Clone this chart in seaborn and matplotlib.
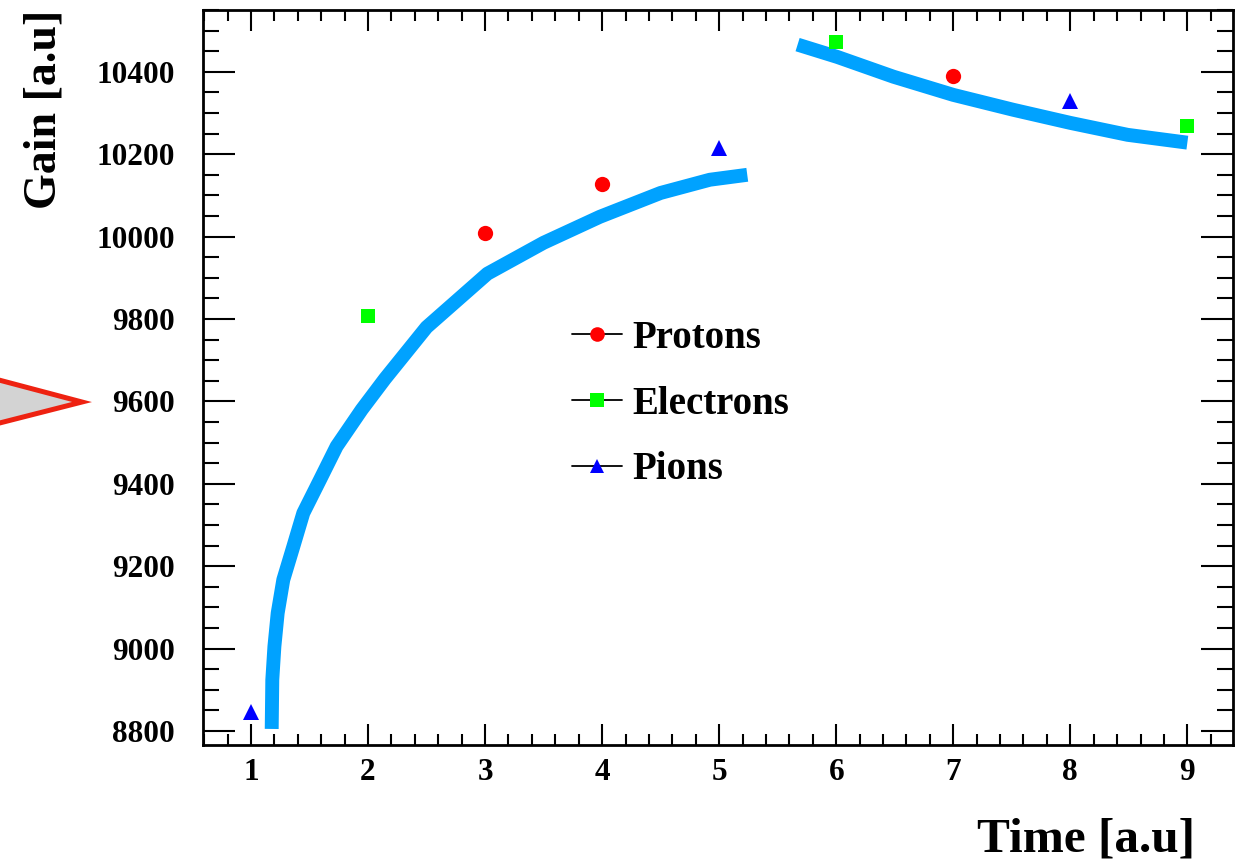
import matplotlib
matplotlib.use("Agg")
import matplotlib.pyplot as plt
from matplotlib.patches import Polygon
from matplotlib.ticker import MultipleLocator
import seaborn as sns
import pandas as pd

# ---------------- data ----------------
curve1_x = [1.177, 1.182, 1.200, 1.228, 1.276, 1.362, 1.447, 1.590, 1.732, 1.946, 2.145,
            2.50, 3.02, 3.50, 3.98, 4.50, 4.92, 5.24]
curve1_y = [8805, 8924, 9005, 9086, 9167, 9248, 9329, 9410, 9491, 9580, 9655,
            9780, 9910, 9985, 10048, 10106, 10138, 10150]
curve2_x = [5.67, 6.01, 6.49, 7.00, 7.51, 8.00, 8.49, 9.00]
curve2_y = [10466, 10436, 10388, 10344, 10308, 10276, 10247, 10228]

protons_x = [3, 4, 7]
protons_y = [10009, 10128, 10390]
electrons_x = [2, 6, 9]
electrons_y = [9808, 10472, 10269]
pions_x = [1, 5, 8]
pions_y = [8847, 10216, 10329]

x_ticks = [1, 2, 3, 4, 5, 6, 7, 8, 9]
y_ticks = [8800, 9000, 9200, 9400, 9600, 9800, 10000, 10200, 10400]

# ---------------- style ----------------
sns.set_style("ticks")
plt.rcParams["font.family"] = ["Liberation Serif", "DejaVu Serif"]
plt.rcParams["font.weight"] = "bold"
for k in ["text.color", "axes.labelcolor", "xtick.color", "ytick.color", "axes.edgecolor"]:
    plt.rcParams[k] = "black"

W, H = 1237, 866
fig = plt.figure(figsize=(W / 100, H / 100), dpi=100)
ax = fig.add_axes([203 / W, 1 - 745 / H, (1233 - 203) / W, (745 - 10) / H])

band_color = "#00a2ff"
c1 = pd.DataFrame({"x": curve1_x, "y": curve1_y})
c2 = pd.DataFrame({"x": curve2_x, "y": curve2_y})
for c in (c1, c2):
    ln = sns.lineplot(data=c, x="x", y="y", ax=ax, sort=False, estimator=None,
                      color=band_color, linewidth=10, zorder=2)
for l in ax.get_lines():
    l.set_solid_joinstyle("round")
    l.set_solid_capstyle("butt")

ax.plot(protons_x, protons_y, linestyle="none", marker="o", color="#ff0000",
        markersize=11, markeredgewidth=0, zorder=3)
ax.plot(electrons_x, electrons_y, linestyle="none", marker="s", color="#00ff00",
        markersize=10, markeredgewidth=0, zorder=3)
ax.plot(pions_x, pions_y, linestyle="none", marker="^", color="#0000ff",
        markersize=11, markeredgewidth=0, zorder=3)

# legend handles (black line with coloured marker, ROOT style)
lh = [
    plt.Line2D([], [], color="black", linewidth=1.3, marker="o", markerfacecolor="#ff0000",
               markeredgewidth=0, markersize=10.5),
    plt.Line2D([], [], color="black", linewidth=1.3, marker="s", markerfacecolor="#00ff00",
               markeredgewidth=0, markersize=9.5),
    plt.Line2D([], [], color="black", linewidth=1.3, marker="^", markerfacecolor="#0000ff",
               markeredgewidth=0, markersize=10),
]
ax.legend(lh, ["Protons", "Electrons", "Pions"], loc="center left",
          bbox_to_anchor=((572 - 203) / 1030, 1 - (404 - 10) / 735),
          bbox_transform=ax.transAxes, frameon=False, borderpad=0, borderaxespad=0,
          handlelength=1.28, handletextpad=0.28, labelspacing=0.745,
          prop={"family": "Liberation Serif", "weight": "bold", "size": 28})

ax.set_xlim(0.59, 9.39)
ax.set_ylim(8766, 10550)
ax.set_xticks(x_ticks)
ax.set_yticks(y_ticks)
ax.set_xticklabels([str(v) for v in x_ticks])
ax.set_yticklabels([str(v) for v in y_ticks])
ax.xaxis.set_minor_locator(MultipleLocator(0.2))
ax.yaxis.set_minor_locator(MultipleLocator(50))
ax.set_xlabel("")
ax.set_ylabel("")

ax.tick_params(axis="x", which="major", direction="in", length=15, width=1.5,
               top=True, bottom=True, pad=9, labelsize=22.5, color="black", labelcolor="black")
ax.tick_params(axis="x", which="minor", direction="in", length=7.7, width=1.5,
               top=True, bottom=True, color="black")
ax.tick_params(axis="y", which="major", direction="in", length=23, width=1.5,
               left=True, right=True, pad=20, labelsize=22.5, color="black", labelcolor="black")
ax.tick_params(axis="y", which="minor", direction="in", length=11.5, width=1.5,
               left=True, right=True, color="black")
for lab in ax.get_xticklabels() + ax.get_yticklabels():
    lab.set_fontweight("bold")
    lab.set_family("Liberation Serif")
for s in ax.spines.values():
    s.set_visible(True)
    s.set_linewidth(2)
    s.set_color("black")

# axis titles (ROOT style, at the ends of the axes)
fig.text(1195 / W, 1 - 840 / H, "Time [a.u]", ha="right", va="center",
         fontsize=35.5, fontweight="bold", family="Liberation Serif", color="black")
fig.text(45 / W, 1 - 10 / H, "Gain [a.u]", ha="center", va="top", rotation=90,
         fontsize=33, fontweight="bold", family="Liberation Serif", color="black")

# grey pointer triangle at the left edge
tri = Polygon([(-20 / W, 1 - 375 / H), (82 / W, 1 - 402 / H), (-20 / W, 1 - 428 / H)],
              closed=True, transform=fig.transFigure, facecolor="#d3d3d3",
              edgecolor="#ee2211", linewidth=3.6, joinstyle="miter", clip_on=False)
fig.patches.append(tri)

fig.savefig("out.png", dpi=100)
